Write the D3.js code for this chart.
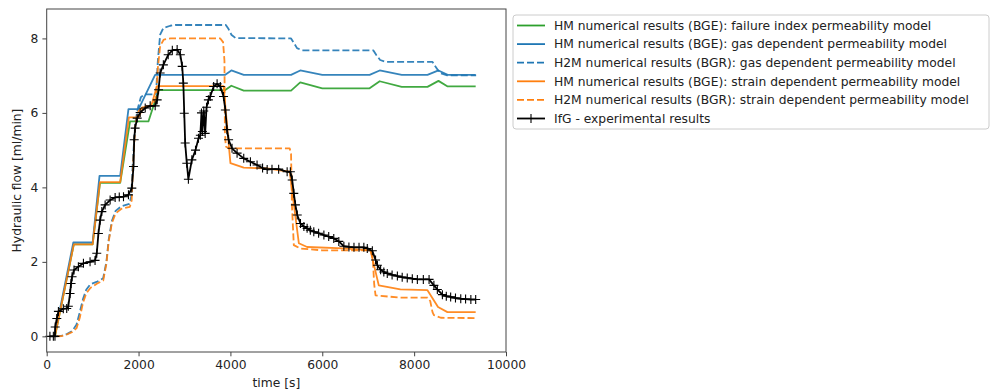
<!DOCTYPE html>
<html>
<head>
<meta charset="utf-8">
<script src="https://d3js.org/d3.v7.min.js"></script>
<style>
  body { margin: 0; background: #fff; }
  svg text { font-family: 'DejaVu Sans', sans-serif; font-size: 12.3px; fill: #222; }
</style>
</head>
<body>
<div id="graf"></div>
<script>
// data: [time s, flow ml/min]
const failureHM = [[180,0],[590,2.47],[1000,2.47],[1160,4.12],[1600,4.12],[1815,5.77],[2215,5.77],[2435,6.61],[3880,6.61],[4020,6.73],[4290,6.60],[5320,6.60],[5520,6.82],[6000,6.66],[7030,6.66],[7250,6.85],[7730,6.70],[8290,6.70],[8530,6.86],[8730,6.71],[9340,6.71]]
const gasHM = [[170,0],[580,2.52],[1000,2.52],[1150,4.31],[1600,4.31],[1780,6.10],[2000,6.10],[2360,7.02],[3880,7.02],[4020,7.14],[4290,7.02],[5320,7.02],[5520,7.14],[6000,7.02],[7030,7.02],[7250,7.14],[7730,7.02],[8290,7.02],[8530,7.14],[8730,7.02],[9340,7.02]]
const gasH2M = [[200,0],[330,0.02],[440,0.06],[560,0.15],[650,0.32],[720,0.65],[790,1.0],[860,1.25],[950,1.4],[1100,1.47],[1230,1.56],[1300,2.0],[1350,2.6],[1420,3.1],[1500,3.37],[1620,3.49],[1800,3.56],[1840,3.75],[1880,4.8],[1930,5.75],[1990,6.15],[2050,6.42],[2130,6.5],[2380,6.5],[2420,7.4],[2470,8.1],[2540,8.28],[2690,8.34],[2800,8.36],[3900,8.36],[3960,8.25],[4020,8.1],[4110,8.01],[5320,8.0],[5380,7.88],[5450,7.74],[5560,7.68],[7110,7.68],[7180,7.55],[7260,7.42],[7380,7.37],[8400,7.37],[8460,7.25],[8560,7.07],[8720,7.01],[9350,7.01]]
const strainHM = [[180,0],[590,2.47],[1000,2.47],[1160,4.14],[1600,4.14],[1790,5.88],[2000,5.88],[2100,6.15],[2280,6.2],[2400,6.72],[3850,6.72],[4000,4.65],[4290,4.53],[4800,4.51],[5290,4.42],[5490,2.50],[5670,2.40],[6470,2.36],[7050,2.31],[7230,1.37],[7700,1.26],[8290,1.24],[8520,0.79],[8725,0.65],[9340,0.65]]
const strainH2M = [[210,0],[330,0.01],[440,0.05],[560,0.12],[650,0.22],[720,0.5],[790,0.9],[860,1.15],[950,1.3],[1100,1.42],[1230,1.5],[1300,1.95],[1350,2.55],[1420,3.05],[1500,3.3],[1620,3.42],[1810,3.48],[1850,3.65],[1880,4.6],[1930,5.7],[2000,6.05],[2080,6.15],[2300,6.2],[2380,6.4],[2420,7.2],[2470,7.8],[2550,7.97],[2700,8.0],[3780,8.0],[3840,7.9],[3870,7.4],[3880,5.5],[3900,5.1],[3960,5.05],[5290,5.05],[5320,4.9],[5340,3.5],[5380,2.45],[5520,2.36],[6000,2.31],[7050,2.31],[7100,2.1],[7130,1.4],[7160,1.1],[7700,1.04],[8290,1.04],[8350,0.95],[8400,0.65],[8430,0.57],[8580,0.50],[9350,0.49]]
const experiment = [[70,0],[145,0],[180,0],[185,0.25],[220,0.48],[255,0.67],[362,0.74],[436,0.75],[471,0.81],[508,1.15],[530,1.42],[552,1.60],[595,1.78],[690,1.87],[800,1.96],[944,2.00],[1053,2.04],[1090,2.23],[1126,2.76],[1163,3.12],[1200,3.35],[1272,3.53],[1381,3.66],[1490,3.73],[1580,3.74],[1672,3.75],[1780,3.80],[1853,3.98],[1890,4.56],[1905,5.28],[1925,5.59],[1970,5.86],[2035,6.01],[2145,6.13],[2253,6.19],[2362,6.19],[2405,6.35],[2435,6.62],[2470,7.07],[2540,7.29],[2645,7.56],[2735,7.68],[2840,7.70],[2910,7.56],[2950,7.25],[2975,6.80],[2995,5.99],[3015,5.19],[3050,4.65],[3085,4.22],[3160,4.74],[3240,5.0],[3305,5.32],[3345,5.4],[3370,6.0],[3390,5.5],[3420,6.05],[3450,5.45],[3480,6.15],[3520,6.35],[3560,6.44],[3635,6.71],[3710,6.78],[3780,6.71],[3850,6.44],[3890,6.08],[3925,5.55],[3960,5.28],[4035,5.05],[4145,4.92],[4290,4.78],[4435,4.69],[4580,4.60],[4700,4.52],[4800,4.48],[4905,4.49],[5050,4.49],[5235,4.42],[5305,4.42],[5345,4.20],[5380,3.84],[5415,3.53],[5455,3.26],[5525,3.03],[5600,2.95],[5670,2.90],[5740,2.85],[5815,2.81],[5920,2.77],[6035,2.72],[6140,2.68],[6250,2.63],[6360,2.55],[6470,2.42],[6580,2.40],[6690,2.39],[6800,2.39],[6905,2.39],[6980,2.36],[7090,2.30],[7160,2.05],[7200,1.91],[7270,1.79],[7340,1.73],[7415,1.69],[7520,1.65],[7635,1.62],[7740,1.59],[7850,1.57],[7960,1.55],[8070,1.53],[8200,1.53],[8325,1.53],[8430,1.37],[8505,1.26],[8615,1.12],[8700,1.08],[8795,1.06],[8900,1.03],[9015,1.01],[9120,1.00],[9235,0.99],[9340,0.99]]

const xTicks = [0, 2000, 4000, 6000, 8000, 10000]
const yTicks = [0, 2, 4, 6, 8]

const series = [
  { label: 'HM numerical results (BGE): failure index permeability model', data: failureHM, color: '#2ca02c', dash: null },
  { label: 'HM numerical results (BGE): gas dependent permeability model', data: gasHM, color: '#1f77b4', dash: null },
  { label: 'H2M numerical results (BGR): gas dependent permeability model', data: gasH2M, color: '#1f77b4', dash: '7,3' },
  { label: 'HM numerical results (BGE): strain dependent permeability model', data: strainHM, color: '#ff7f0e', dash: null },
  { label: 'H2M numerical results (BGR): strain dependent permeability model', data: strainH2M, color: '#ff7f0e', dash: '7,3' },
  { label: 'IfG - experimental results', data: experiment, color: '#000000', dash: null, marker: true },
]

const anchoTotal = 991
const altoTotal = 392
const svg = d3.select('#graf').append('svg')
  .attr('width', anchoTotal)
  .attr('height', altoTotal)

const margin = { top: 9, left: 46.7, right: 506, bottom: 352 }

// escaladores
const x = d3.scaleLinear().domain([0, 10000]).range([margin.left, margin.right])
const y = d3.scaleLinear().domain([-0.42, 8.79]).range([margin.bottom, margin.top])

const linea = d3.line().x(d => x(d[0])).y(d => y(d[1]))

const g = svg.append('g')

series.forEach(s => {
  g.append('path')
    .attr('d', linea(s.data))
    .attr('fill', 'none')
    .attr('stroke', s.color)
    .attr('stroke-width', 1.8)
    .attr('stroke-opacity', s.marker ? 1 : 0.9)
    .attr('stroke-dasharray', s.dash)
    .attr('stroke-linejoin', 'round')
  if (s.marker) {
    g.selectAll('.mark')
      .data(s.data)
      .enter()
      .append('path')
      .attr('class', 'mark')
      .attr('transform', d => `translate(${x(d[0])},${y(d[1])})`)
      .attr('d', 'M-4.5,0H4.5M0,-4.5V4.5')
      .attr('stroke', s.color)
      .attr('stroke-width', 1.1)
  }
})

// ejes
g.append('rect')
  .attr('x', margin.left).attr('y', margin.top)
  .attr('width', margin.right - margin.left)
  .attr('height', margin.bottom - margin.top)
  .attr('fill', 'none')
  .attr('stroke', '#444')
  .attr('stroke-width', 1)

const ejeX = svg.append('g')
  .attr('transform', `translate(0, ${margin.bottom})`)
  .call(d3.axisBottom(x).tickValues(xTicks).tickSize(4.3).tickPadding(4).tickFormat(d3.format('d')))
ejeX.select('.domain').remove()
ejeX.selectAll('line').attr('stroke', '#444')

const ejeY = svg.append('g')
  .attr('transform', `translate(${margin.left}, 0)`)
  .call(d3.axisLeft(y).tickValues(yTicks).tickSize(4.3).tickPadding(4).tickFormat(d3.format('d')))
ejeY.select('.domain').remove()
ejeY.selectAll('line').attr('stroke', '#444')

svg.selectAll('.tick text').style('font-family', "'DejaVu Sans', sans-serif").style('font-size', '12.3px').attr('fill', '#222')

svg.append('text')
  .attr('x', (margin.left + margin.right) / 2)
  .attr('y', 387)
  .attr('text-anchor', 'middle')
  .text('time [s]')

svg.append('text')
  .attr('transform', `translate(17, ${(margin.top + margin.bottom) / 2}) rotate(-90)`)
  .attr('text-anchor', 'middle')
  .attr('dy', '0.35em')
  .text('Hydraulic flow [ml/min]')

// leyenda
const ley = svg.append('g').attr('transform', 'translate(513, 15)')
ley.append('rect')
  .attr('x', 0).attr('y', 0)
  .attr('width', 476).attr('height', 114)
  .attr('rx', 3)
  .attr('fill', '#fff')
  .attr('fill-opacity', 0.8)
  .attr('stroke', '#ccc')

series.forEach((s, i) => {
  const fila = ley.append('g').attr('transform', `translate(0, ${10.5 + i * 18.6})`)
  fila.append('line')
    .attr('x1', 4).attr('x2', 32)
    .attr('stroke', s.color)
    .attr('stroke-width', 1.8)
    .attr('stroke-dasharray', s.dash)
  if (s.marker) {
    fila.append('path')
      .attr('d', 'M13.5,0H22.5M18,-4.5V4.5')
      .attr('stroke', s.color)
      .attr('stroke-width', 1.1)
  }
  fila.append('text')
    .attr('x', 41)
    .attr('dy', '0.35em')
    .text(s.label)
})
</script>
</body>
</html>
